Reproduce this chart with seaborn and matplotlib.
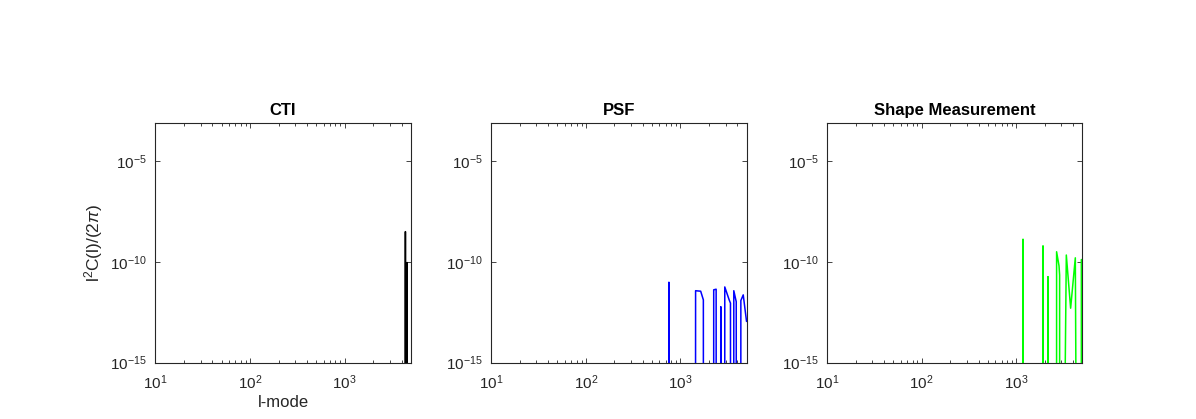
import matplotlib
matplotlib.use("Agg")
import matplotlib.pyplot as plt
import matplotlib.ticker as mticker
import seaborn as sns
import numpy as np
import pandas as pd

# values below the plotted range (drawn off the bottom of the axes)
FLOOR = 1e-30

titles = ["CTI", "PSF", "Shape Measurement"]
colors = ["#000000", "#0000ff", "#00ff00"]

l_cti = [10, 4390, 4395, 4400, 4566, 4571, 4576, 5000]
c_cti = [FLOOR, FLOOR, 3.2e-9, FLOOR, FLOOR, 9.3e-11, FLOOR, FLOOR]

l_psf = [10, 750, 755, 760,
         1440, 1446, 1637, 1747, 1752,
         2243, 2248, 2385, 2392,
         2664, 2669, 2674,
         2938, 2943, 3275, 3381, 3388,
         3660, 3666, 3890, 3900,
         4345, 4353, 4613, 5000]
c_psf = [FLOOR, FLOOR, 9.8e-12, FLOOR,
         FLOOR, 3.7e-12, 3.5e-12, 1.3e-12, FLOOR,
         FLOOR, 4.1e-12, 4.4e-12, FLOOR,
         FLOOR, 6.0e-13, FLOOR,
         FLOOR, 5.7e-12, 1.3e-12, 8.9e-13, FLOOR,
         FLOOR, 3.7e-12, 1.05e-12, FLOOR,
         FLOOR, 1.2e-12, 2.3e-12, 1.1e-13]

l_shape = [10, 1173, 1178, 1183,
           1912, 1917, 1922,
           2159, 2164, 2169,
           2664, 2669, 2832, 2873, 2878,
           3069, 3381, 3756, 4210, 4424,
           4870, 4875, 5000]
c_shape = [FLOOR, FLOOR, 1.35e-9, FLOOR,
           FLOOR, 6.3e-10, FLOOR,
           FLOOR, 1.86e-11, FLOOR,
           FLOOR, 3.2e-10, 6.3e-11, 2.2e-11, FLOOR,
           FLOOR, 2.2e-10, 5.0e-13, 1.6e-10, FLOOR,
           FLOOR, 1.3e-10, 1.3e-10]

series = [(l_cti, c_cti), (l_psf, c_psf), (l_shape, c_shape)]

sns.set_style("ticks")
plt.rcParams["font.family"] = ["Liberation Sans", "DejaVu Sans"]
plt.rcParams["mathtext.fontset"] = "custom"
plt.rcParams["mathtext.rm"] = "Liberation Sans"
plt.rcParams["mathtext.it"] = "Liberation Sans:italic"
plt.rcParams["mathtext.bf"] = "Liberation Sans:bold"
plt.rcParams["axes.unicode_minus"] = False

axcol = "#262626"
fig = plt.figure(figsize=(11.96, 4.19), dpi=100)
lefts = [0.13, 0.4108, 0.6916]

for i, (ls, cs) in enumerate(series):
    ax = fig.add_axes([lefts[i], 0.1348, 0.2134, 0.5716])
    df = pd.DataFrame({"l": ls, "C": cs})
    sns.lineplot(data=df, x="l", y="C", ax=ax, color=colors[i],
                 estimator=None, sort=False, linewidth=1.1)
    ax.set_xscale("log")
    ax.set_yscale("log")
    ax.set_xlim(10, 5000)
    ax.set_ylim(1e-15, 8e-4)
    ax.yaxis.set_major_locator(mticker.FixedLocator([1e-15, 1e-10, 1e-5]))
    ax.yaxis.set_minor_locator(mticker.NullLocator())
    ax.xaxis.set_major_locator(mticker.FixedLocator([10, 100, 1000]))
    ax.xaxis.set_minor_locator(mticker.LogLocator(base=10, subs=np.arange(2, 10), numticks=20))
    ax.xaxis.set_minor_formatter(mticker.NullFormatter())
    ax.tick_params(which="both", direction="in", top=True, right=True,
                   color=axcol, labelcolor=axcol, labelsize=11, width=0.6)
    ax.tick_params(which="major", length=3.5)
    ax.tick_params(which="minor", length=2.2)
    ax.tick_params(axis="x", which="major", pad=8)
    ax.tick_params(axis="y", which="major", pad=6)
    for s in ax.spines.values():
        s.set_color(axcol)
        s.set_linewidth(0.8)
    ax.set_title(titles[i], fontsize=12, fontweight="bold", color="black", pad=6)
    if i == 0:
        ax.set_xlabel("l-mode", fontsize=12, color=axcol, labelpad=2)
        ax.set_ylabel(r"l$^2$C(l)/(2$\pi$)", fontsize=12.5, color=axcol, labelpad=4)
    else:
        ax.set_xlabel("")
        ax.set_ylabel("")

fig.savefig("out.png", dpi=100)
